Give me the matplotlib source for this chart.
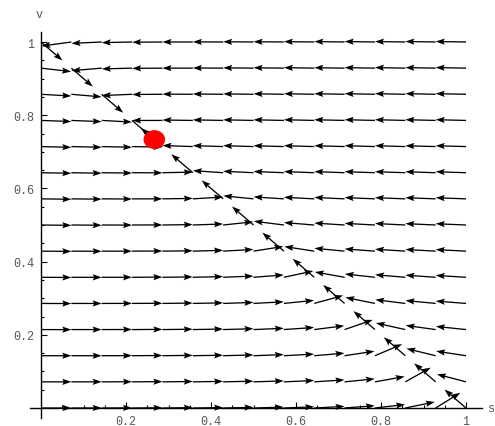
import numpy as np
import matplotlib
matplotlib.use("Agg")
import matplotlib.pyplot as plt
from matplotlib.patches import Circle
from matplotlib.ticker import FixedLocator, FixedFormatter

# grid of the vector field (15 x 15 points on [0,1] x [0,1])
s_grid = [i / 14 for i in range(15)]
v_grid = [j / 14 for j in range(15)]

# arrow directions (degrees, data space), rows from v=1 (top) down to v=0
angle_rows = [
    [-45, 189, 183, 181.4, 180.5, 180, 179.7, 179.5, 179.4, 179.2, 179.1, 179, 179, 178.9, 178.9],
    [-7.6, -45, 185.6, 181.7, 180.5, 180, 179.6, 179.3, 179.2, 179, 179, 178.9, 178.8, 178.8, 178.7],
    [-3.8, -5.7, -45, 182.8, 180.4, 179.6, 179.3, 179.1, 178.9, 178.8, 178.7, 178.7, 178.6, 178.6, 178.6],
    [-2.4, -2.7, -3.6, -45, 180.1, 179.1, 178.8, 178.7, 178.6, 178.5, 178.5, 178.4, 178.4, 178.4, 178.4],
    [-1.7, -1.6, -1.5, -1.2, 135, 177.7, 178, 178, 178.1, 178.1, 178.1, 178.1, 178.1, 178.2, 178.2],
    [-1.2, -1.1, -0.8, -0.3, 1.3, 135, 175.5, 176.8, 177.3, 177.5, 177.6, 177.7, 177.8, 177.9, 177.9],
    [-0.9, -0.7, -0.4, 0, 1, 4, 135, 173.4, 175.7, 176.5, 176.9, 177.2, 177.4, 177.5, 177.6],
    [-0.7, -0.5, -0.2, 0.2, 0.9, 2.3, 7, 135, 171.6, 174.7, 175.8, 176.4, 176.7, 177, 177.2],
    [-0.5, -0.3, -0.1, 0.3, 0.8, 1.8, 3.7, 10.3, 135, 169.9, 173.7, 175.1, 175.8, 176.3, 176.6],
    [-0.4, -0.2, 0, 0.4, 0.8, 1.5, 2.7, 5.2, 13.9, 135, 168.3, 172.7, 174.4, 175.3, 175.9],
    [-0.3, -0.1, 0.1, 0.4, 0.8, 1.3, 2.2, 3.6, 6.7, 17.7, 135, 166.8, 171.8, 173.7, 174.8],
    [-0.2, 0, 0.2, 0.4, 0.8, 1.2, 1.9, 2.8, 4.6, 8.3, 21.8, 135, 165.5, 170.9, 173.1],
    [-0.1, 0, 0.2, 0.5, 0.8, 1.1, 1.7, 2.4, 3.5, 5.6, 9.9, 26.2, 135, 164.2, 170],
    [0, 0.1, 0.3, 0.5, 0.8, 1.1, 1.5, 2.1, 3, 4.3, 6.6, 11.7, 33, 135, 163.1],
    [0, 0.1, 0.3, 0.5, 0.8, 1, 1.4, 1.9, 2.6, 3.5, 5, 7.6, 13.4, 35.7, 135],
]

# equilibrium point (red disk)
eq_s = 0.2666
eq_v = 0.7336

tick_vals = [0.2, 0.4, 0.6, 0.8, 1.0]
tick_labels = ["0.2", "0.4", "0.6", "0.8", "1"]
minor_vals = [k * 0.05 for k in range(1, 21) if k % 4 != 0]

fig = plt.figure(figsize=(4.95, 4.27), dpi=100)
ax = fig.add_axes([0, 0, 1, 1])
ax.set_xlim(-41 / 425, 454 / 425)
ax.set_ylim(-18 / 366, 409 / 366)

S, Vg = np.meshgrid(s_grid, v_grid[::-1])
ang = np.radians(np.array(angle_rows))
L = 1 / 14
U = L * np.cos(ang)
V = L * np.sin(ang)
ax.quiver(S, Vg, U, V, angles="xy", scale_units="xy", scale=1, pivot="tail",
          units="dots", width=1.3, headwidth=4.8, headlength=7.0,
          headaxislength=6.0, color="black", zorder=3)

ax.add_patch(Circle((eq_s, eq_v), 0.0237, color="#ff0000", zorder=4))

for side in ("top", "right"):
    ax.spines[side].set_visible(False)
ax.spines["left"].set_position(("data", 0))
ax.spines["bottom"].set_position(("data", 0))
ax.spines["left"].set_bounds(-0.027, 1.027)
ax.spines["bottom"].set_bounds(-0.026, 1.038)
for side in ("left", "bottom"):
    ax.spines[side].set_linewidth(1.0)
    ax.spines[side].set_zorder(2)

for axis in (ax.xaxis, ax.yaxis):
    axis.set_major_locator(FixedLocator(tick_vals))
    axis.set_major_formatter(FixedFormatter(tick_labels))
    axis.set_minor_locator(FixedLocator(minor_vals))

ax.tick_params(which="major", direction="in", length=4.5, width=0.8, pad=5,
               labelsize=8.5, labelcolor="#555555")
ax.tick_params(which="minor", direction="in", length=2.5, width=0.8)
for lab in ax.get_xticklabels() + ax.get_yticklabels():
    lab.set_family("Liberation Mono")

ax.text(-0.005, 1.0765, "v", family="Liberation Mono", fontsize=8.5,
        color="#555555", ha="center", va="center")
ax.text(1.061, 0.0, "s", family="Liberation Mono", fontsize=8.5,
        color="#555555", ha="center", va="center", clip_on=False)

fig.savefig("out.png", dpi=100)
